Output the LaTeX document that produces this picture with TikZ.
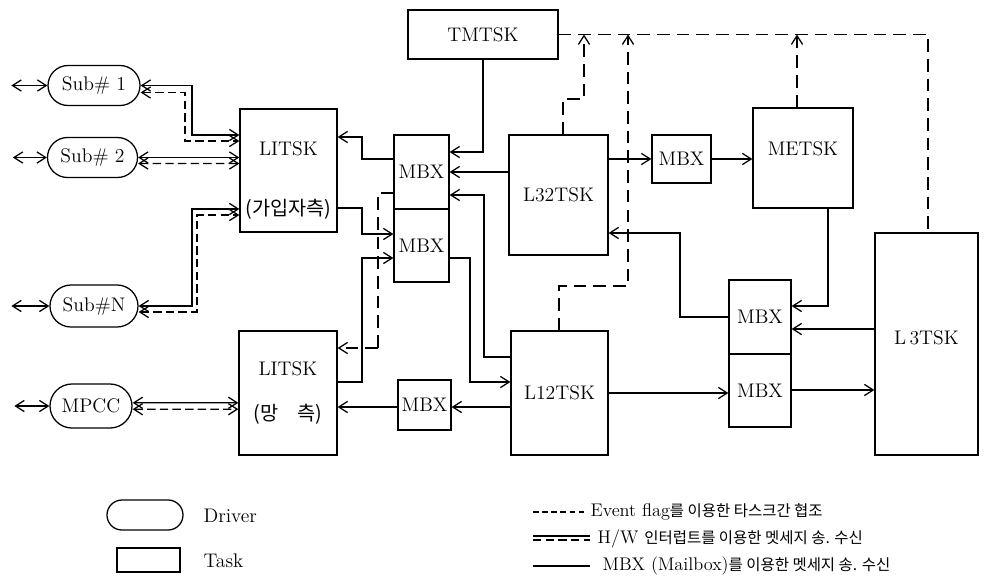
\documentclass[tikz,border=0pt]{standalone}
\usepackage{fontspec}
\newfontfamily\kr{Noto Sans CJK KR}
\usetikzlibrary{arrows.meta,shapes.misc}

\begin{document}
\begin{tikzpicture}[
  x=0.025cm, y=-0.025cm,
  line width=0.9pt,
  >={Straight Barb[length=2.2mm,width=2.8mm]},
  task/.style={draw, rectangle, align=center, inner sep=0pt,
               font=\fontsize{14}{16}\selectfont},
  mbx/.style={task},
  drv/.style={draw, rounded rectangle, minimum width=2.25cm, minimum height=1cm,
              inner sep=0pt, font=\fontsize{14}{16}\selectfont},
  arr/.style={->},
  dbl/.style={<->},
  evt/.style={dash pattern=on 9pt off 5pt},
  hwd/.style={dash pattern=on 6pt off 3pt},
  lgtext/.style={anchor=west, inner sep=0pt, font=\fontsize{13}{15}\selectfont}
]
\useasboundingbox (0,0) rectangle (984,580);

% tasks
\node[task, minimum width=3.75cm, minimum height=1.225cm] (tmtsk) at (483,34.5) {TMTSK};
\node[task, minimum width=2.425cm, minimum height=3.075cm] (lit1) at (288.5,170.5) {\rule{0pt}{0pt}\\[8pt]LITSK\\[9.4mm]{\kr (가입자측)}};
\node[task, minimum width=2.45cm, minimum height=3.1cm] (lit2) at (288,393) {LITSK\\[5.6mm]{\kr (망\quad 측)}};
\node[task, minimum width=2.475cm, minimum height=3cm] (l32) at (558.5,195) {L32TSK};
\node[task, minimum width=2.5cm, minimum height=2.5cm] (metsk) at (803,158) {METSK\\[-3pt]};
\node[task, minimum width=2.575cm, minimum height=5.55cm] (l3) at (926.5,344) {L\,3TSK\\[-7pt]};
\node[task, minimum width=2.425cm, minimum height=3.1cm] (l12) at (559.5,393) {L12TSK};

% mailboxes
\node[mbx, minimum width=1.375cm, minimum height=1.85cm] (mbx1) at (421.5,172) {MBX};
\node[mbx, minimum width=1.375cm, minimum height=1.825cm] (mbx2) at (421.5,245.5) {MBX};
\node[mbx, minimum width=1.475cm, minimum height=1.2cm] (mbx3) at (681.5,159) {MBX};
\node[mbx, minimum width=1.55cm, minimum height=1.85cm] (mbx4) at (760,317) {MBX};
\node[mbx, minimum width=1.55cm, minimum height=1.825cm] (mbx5) at (760,390.5) {MBX};
\node[mbx, minimum width=1.325cm, minimum height=1.25cm] (mbx6) at (424.5,405) {MBX};

% drivers
\node[drv, minimum width=2.3cm] (sub1) at (94,85.5) {Sub\# 1};
\node[drv] (sub2) at (92.5,157.5) {Sub\# 2};
\node[drv, minimum width=2.2cm, minimum height=1.05cm] (subn) at (94,306) {Sub\#N};
\node[drv, minimum width=2.05cm, minimum height=1.1cm] (mpcc) at (91,406) {MPCC};

% outside world
\draw[dbl] ([xshift=-0.9cm]sub1.west) -- (sub1.west);
\draw[dbl] ([xshift=-0.85cm]sub2.west) -- (sub2.west);
\draw[dbl] ([xshift=-0.95cm]subn.west) -- (subn.west);
\draw[dbl] ([xshift=-0.875cm]mpcc.west) -- (mpcc.west);

% H/W interrupt
\draw[dbl] (sub1.east) -| (192,135) -- (192,135 -| lit1.west);
\draw[dbl, hwd] ([yshift=-0.175cm]sub1.east) -| (185,141) -- (185,141 -| lit1.west);
\draw[dbl] (sub2.east) -- (lit1.west |- sub2.east);
\draw[dbl, hwd] ([yshift=-0.15cm]sub2.east) -- (lit1.west |- 0,163.5);
\draw[dbl] (subn.east) -| (192,209) -- (192,209 -| lit1.west);
\draw[dbl, hwd] ([yshift=-0.15cm]subn.east) -| (197,215) -- (197,215 -| lit1.west);
\draw[dbl] ([yshift=0.08cm]mpcc.east) -- (lit2.west |- 0,402.8);
\draw[dbl, hwd] ([yshift=-0.08cm]mpcc.east) -- (lit2.west |- 0,409.2);

% mailbox messages
\draw[arr] (mbx1.west |- 0,159) -| (362,137) -- (lit1.east |- 0,137);
\draw[arr] (lit1.east |- 0,208) -| (362,234) -- (mbx2.west |- 0,234);
\draw[arr] (lit2.east |- 0,382) -| (362,258) -- (mbx2.west |- 0,258);
\draw[arr] (tmtsk.south) -- (483,152) -- (mbx1.east |- 0,152);
\draw[arr] (l32.west |- mbx1.east) -- (mbx1.east);
\draw[arr] (l12.west |- 0,357) -| (484,195) -- (mbx1.east |- 0,195);
\draw[arr] (mbx2.east |- 0,258) -| (470,382) -- (l12.west |- 0,382);
\draw[arr] (l12.west |- 0,407) -- (mbx6.east |- 0,407);
\draw[arr] (mbx6.west |- 0,407) -- (lit2.east |- 0,407);
\draw[arr] (l32.east |- mbx3.west) -- (mbx3.west);
\draw[arr] (mbx3.east) -- (metsk.west |- mbx3.east);
\draw[arr] (metsk.south -| 828,0) -- (828,306) -- (mbx4.east |- 0,306);
\draw[arr] (l3.west |- 0,329) -- (mbx4.east |- 0,329);
\draw[arr] (mbx4.west |- 0,317) -| (680,233) -- (l32.east |- 0,233);
\draw[arr] (l12.east |- 0,393) -- (mbx5.west |- 0,393);
\draw[arr] (mbx5.east |- 0,390) -- (l3.west |- 0,390);

% event flags
\draw[evt] (tmtsk.east) -- (928,34.5) -- (l3.north -| 928,0);
\draw[evt, arr] (l32.north -| 563,0) -- (563,99) -- (584,99) -- (584,34.5);
\draw[evt, arr] (l12.north -| 559,0) -- (559,286) -- (628,286) -- (628,34.5);
\draw[evt, arr] (metsk.north -| 797,0) -- (797,34.5);
\draw[evt] (mbx1.west |- 0,193) -| (378,348);
\draw[evt, arr] (378,348) -- (lit2.east |- 0,348);

% legend
\node[drv, minimum width=1.9cm, minimum height=0.75cm] (lgdrv) at (145,515) {};
\node[lgtext, font=\fontsize{14}{16}\selectfont] (lgdrvtxt) at (203,516) {Driver};
\node[task, minimum width=1.575cm, minimum height=0.6cm] (lgtask) at (148.5,560) {};
\node[lgtext, font=\fontsize{14}{16}\selectfont] (lgtasktxt) at (203,561) {Task};

\coordinate (ev1) at (533,512);
\coordinate (ev2) at (585,512);
\draw[dash pattern=on 4pt off 2.5pt] (ev1) -- (ev2);
\node[lgtext] (lgevt) at (590,512) {Event flag{\kr\fontsize{11}{13}\selectfont 를 이용한 타스크간 협조}};

\coordinate (hw1) at (533,536);
\coordinate (hw2) at (590,536);
\draw (hw1) -- (hw2);
\draw[hwd] ([yshift=-0.1cm]hw1) -- ([yshift=-0.1cm]hw2);
\node[lgtext] (lghw) at (597,539) {H/W {\kr\fontsize{11}{13}\selectfont 인터럽트를 이용한 멧세지 송. 수신}};

\coordinate (mb1) at (533,566);
\coordinate (mb2) at (590,566);
\draw (mb1) -- (mb2);
\node[lgtext] (lgmbx) at (602,566) {MBX (Mailbox){\kr\fontsize{11}{13}\selectfont 를 이용한 멧세지 송. 수신}};
\end{tikzpicture}
\end{document}
